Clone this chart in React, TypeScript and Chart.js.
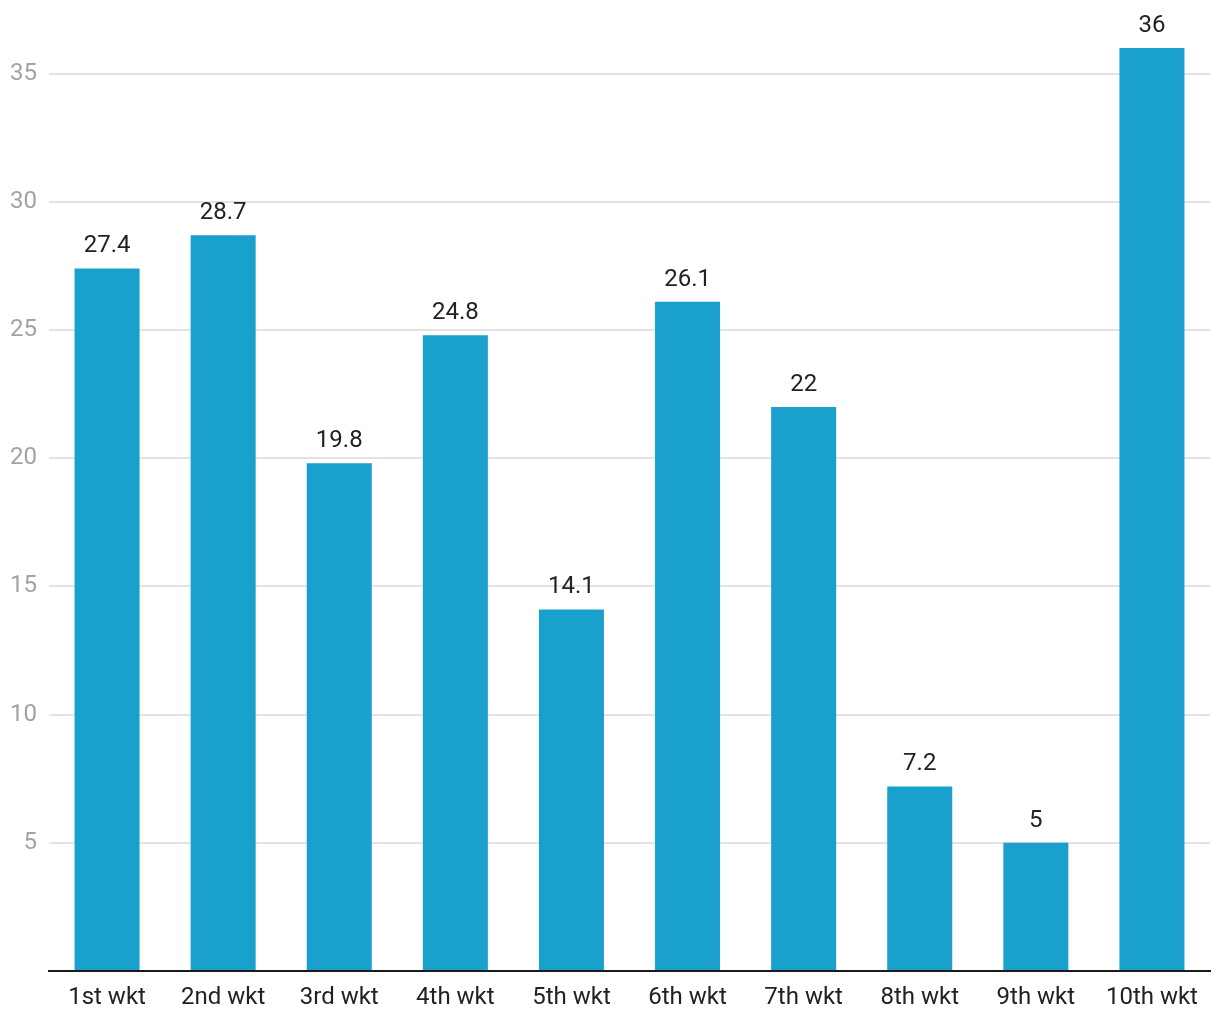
import React, { useEffect, useRef } from "react";
import { Chart, registerables } from "chart.js";

Chart.register(...registerables);

const categories = ["1st wkt", "2nd wkt", "3rd wkt", "4th wkt", "5th wkt", "6th wkt", "7th wkt", "8th wkt", "9th wkt", "10th wkt"];
const values = [27.4, 28.7, 19.8, 24.8, 14.1, 26.1, 22, 7.2, 5, 36];
const yTicks = [0, 5, 10, 15, 20, 25, 30, 35];
const yMax = 36;

const valueLabels = {
  id: "valueLabels",
  afterDatasetsDraw(chart: any) {
    const ctx = chart.ctx;
    const meta = chart.getDatasetMeta(0);
    ctx.save();
    ctx.font = "24px Roboto";
    ctx.fillStyle = "#222222";
    ctx.textAlign = "center";
    ctx.textBaseline = "middle";
    meta.data.forEach((bar: any, i: number) => {
      ctx.fillText(String(values[i]), bar.x, bar.y - 22);
    });
    ctx.restore();
  },
};

export default function App() {
  const ref = useRef<HTMLCanvasElement>(null);
  useEffect(() => {
    document.body.style.margin = "0";
    const chart = new Chart(ref.current!, {
      type: "bar",
      data: {
        labels: categories,
        datasets: [
          {
            data: values,
            backgroundColor: "#19a0cc",
            categoryPercentage: 1,
            barPercentage: 0.56,
          },
        ],
      },
      options: {
        animation: false,
        responsive: false,
        maintainAspectRatio: false,
        layout: { padding: { top: 48, right: 10, left: 0, bottom: 0 } },
        plugins: { legend: { display: false }, tooltip: { enabled: false } },
        scales: {
          x: {
            grid: { display: false, drawTicks: false },
            border: { display: true, color: "#1a1a1a", width: 2 },
            ticks: { color: "#222222", font: { family: "Roboto", size: 24 }, padding: 13, maxRotation: 0 },
            afterFit(scale: any) {
              scale.height = 49;
            },
          },
          y: {
            min: 0,
            max: yMax,
            afterBuildTicks(scale: any) {
              scale.ticks = yTicks.map((v) => ({ value: v }));
            },
            grid: { color: "#e3e3e3", lineWidth: 2, drawTicks: false },
            border: { display: false },
            ticks: {
              color: "#a3a3a3",
              font: { family: "Roboto", size: 24 },
              padding: 12,
              callback: (v: any) => (v === 0 ? "" : String(v)),
            },
            afterFit(scale: any) {
              scale.width = 49;
            },
          },
        },
      },
      plugins: [valueLabels],
    });
    return () => chart.destroy();
  }, []);
  return (
    <div style={{ width: 1220, height: 1020 }}>
      <canvas ref={ref} width={1220} height={1020} style={{ width: 1220, height: 1020 }} />
    </div>
  );
}
